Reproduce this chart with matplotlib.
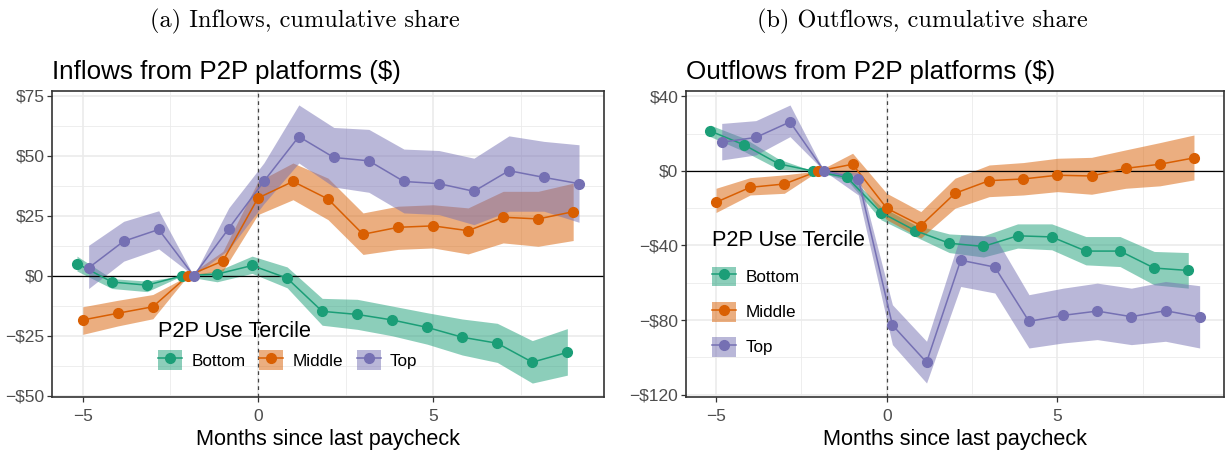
import matplotlib
matplotlib.use('Agg')
import matplotlib.pyplot as plt
from matplotlib.lines import Line2D
from matplotlib.patches import Patch
import numpy as np

plt.rcParams['font.family'] = ['Liberation Sans', 'DejaVu Sans']

months = [-5, -4, -3, -2, -1, 0, 1, 2, 3, 4, 5, 6, 7, 8, 9]
groups = ['Bottom', 'Middle', 'Top']
colores = ['#1B9E77', '#D95F02', '#7570B3']

# Inflows (panel a)
in_bottom = [5.1, -2.6, -3.9, 0, 0.7, 4.3, -1.0, -14.8, -16.1, -18.4, -21.5, -25.6, -28.1, -36.0, -31.9]
in_bottom_hi = [8.2, -1.2, -2.2, 0, 2.0, 8.2, 3.7, -9.4, -9.8, -12.6, -15.4, -18.0, -19.8, -27.0, -22.0]
in_bottom_lo = [2.0, -5.3, -6.6, 0, -2.5, 1.0, -5.0, -20.6, -22.3, -25.0, -28.5, -33.0, -36.1, -44.7, -41.4]
in_middle = [-18.4, -15.6, -12.9, 0, 6.2, 32.4, 39.3, 32.0, 17.3, 20.2, 20.8, 18.8, 24.4, 23.7, 26.7]
in_middle_hi = [-12.9, -10.2, -7.8, 0, 10.2, 39.3, 47.0, 40.7, 26.2, 29.0, 29.6, 28.3, 35.2, 35.2, 38.6]
in_middle_lo = [-24.4, -20.9, -17.9, 0, 2.0, 25.5, 31.7, 23.4, 8.9, 11.0, 11.6, 9.1, 13.7, 12.3, 14.7]
in_top = [3.3, 14.4, 19.3, 0, 19.7, 39.3, 58.0, 49.3, 47.9, 39.3, 38.4, 35.2, 43.8, 41.0, 38.4]
in_top_hi = [12.7, 22.7, 27.1, 0, 28.3, 47.0, 71.2, 61.8, 61.0, 52.8, 52.2, 49.0, 58.3, 56.0, 54.6]
in_top_lo = [-5.3, 6.1, 11.2, 0, 10.9, 30.0, 47.0, 37.0, 34.8, 26.2, 25.5, 21.3, 26.9, 26.9, 22.3]

# Outflows (panel b)
out_bottom = [21.4, 13.9, 3.8, 0, -3.4, -22.3, -32.0, -38.8, -40.5, -34.8, -35.4, -43.0, -43.0, -52.1, -53.4]
out_bottom_hi = [24.6, 17.5, 6.4, 0, -1.6, -19.1, -29.0, -33.8, -34.8, -28.4, -28.4, -35.2, -35.2, -43.2, -43.8]
out_bottom_lo = [18.4, 10.4, 0.9, 0, -4.8, -26.2, -35.2, -43.8, -46.2, -41.4, -42.3, -50.4, -51.3, -61.1, -62.9]
out_middle = [-16.8, -8.8, -7.0, 0, 3.6, -20.0, -29.3, -12.0, -5.2, -4.3, -2.3, -2.7, 1.4, 3.6, 7.0]
out_middle_hi = [-9.3, -3.6, -2.1, 0, 9.5, -12.0, -21.8, -3.9, 3.2, 4.5, 6.8, 7.3, 11.3, 15.2, 19.3]
out_middle_lo = [-22.3, -12.9, -12.0, 0, -2.1, -26.2, -36.0, -20.0, -13.8, -12.9, -11.1, -12.5, -9.3, -8.0, -4.8]
out_top = [15.4, 18.0, 26.3, 0, -4.1, -82.7, -102.7, -47.9, -51.6, -80.7, -77.5, -75.2, -78.2, -75.0, -78.4]
out_top_hi = [25.5, 27.0, 35.4, 0, -0.9, -71.8, -91.4, -34.3, -35.2, -66.4, -62.9, -60.2, -62.9, -59.3, -61.6]
out_top_lo = [5.9, 8.6, 18.4, 0, -12.9, -93.2, -113.8, -62.0, -65.5, -95.0, -92.3, -90.5, -93.2, -91.4, -95.0]

in_yticks = [75, 50, 25, 0, -25, -50]
in_ylabels = ['$75', '$50', '$25', '$0', '\u2212$25', '\u2212$50']
out_yticks = [40, 0, -40, -80, -120]
out_ylabels = ['$40', '$0', '\u2212$40', '\u2212$80', '\u2212$120']
xticks = [-5, 0, 5]
xlabels = ['\u22125', '0', '5']


def panel(ax, series, titulo, yticks, ylabels, ylim, minor_y):
    dodge = [-1/6, 0, 1/6]
    x = np.array(months, dtype=float)
    for (m, hi, lo), c, d in zip(series, colores, dodge):
        ax.fill_between(x + d, lo, hi, color=c, alpha=0.5, lw=0, zorder=2)
    for (m, hi, lo), c, d in zip(series, colores, dodge):
        ax.plot(x + d, m, color=c, lw=1.1, zorder=3)
        ax.plot(x + d, m, 'o', color=c, ms=7, zorder=4)
    ax.axhline(0, color='black', lw=0.9, zorder=2.5)
    ax.axvline(0, color='#444444', lw=0.9, ls=(0, (3, 3)), zorder=2.5)
    ax.set_xlim(-5.88, 9.88)
    ax.set_ylim(*ylim)
    ax.set_xticks(xticks)
    ax.set_xticklabels(xlabels)
    ax.set_yticks(yticks)
    ax.set_yticklabels(ylabels)
    ax.set_xticks([-2.5, 2.5, 7.5], minor=True)
    ax.set_yticks(minor_y, minor=True)
    ax.grid(True, which='major', color='#EBEBEB', lw=1.2, zorder=0)
    ax.grid(True, which='minor', color='#EBEBEB', lw=0.6, zorder=0)
    ax.set_axisbelow(True)
    ax.tick_params(which='major', length=3.5, width=0.9, color='#333333',
                   labelsize=12.5, labelcolor='#4D4D4D', pad=2)
    ax.tick_params(axis='x', which='major', pad=5)
    ax.tick_params(which='minor', length=0)
    for s in ax.spines.values():
        s.set_color('#333333')
        s.set_linewidth(1.2)
    ax.set_xlabel('Months since last paycheck', fontsize=15.6, labelpad=4)
    ax.set_title(titulo, loc='left', fontsize=18.7, pad=9, x=0.0)


fig = plt.figure(figsize=(12.25, 4.51), dpi=100)
ax1 = fig.add_axes([52/1225, 1 - 397/451, (604 - 52)/1225, (397 - 91)/451])
ax2 = fig.add_axes([686/1225, 1 - 397/451, (1224 - 686)/1225, (397 - 91)/451])

panel(ax1, [(in_bottom, in_bottom_hi, in_bottom_lo),
            (in_middle, in_middle_hi, in_middle_lo),
            (in_top, in_top_hi, in_top_lo)],
      'Inflows from P2P platforms ($)', in_yticks, in_ylabels, (-50.5, 77.0),
      [62.5, 37.5, 12.5, -12.5, -37.5])
panel(ax2, [(out_bottom, out_bottom_hi, out_bottom_lo),
            (out_middle, out_middle_hi, out_middle_lo),
            (out_top, out_top_hi, out_top_lo)],
      'Outflows from P2P platforms ($)', out_yticks, out_ylabels, (-121.3, 42.9),
      [20, -20, -60, -100])

handles = [(Patch(facecolor=c, alpha=0.5, lw=0),
            Line2D([], [], color=c, lw=1.1, marker='o', ms=7)) for c in colores]

leg1 = ax1.legend(handles, groups, title='P2P Use Tercile', loc='upper left',
                  bbox_to_anchor=(0.164, 0.30), ncol=3, frameon=False, fontsize=12.3,
                  title_fontsize=15.6, handlelength=1.4, handleheight=1.4,
                  columnspacing=0.8, handletextpad=0.55)
leg1._legend_box.align = 'left'
leg2 = ax2.legend(handles, groups, title='P2P Use Tercile', loc='upper left',
                  bbox_to_anchor=(0.02, 0.595), ncol=1, frameon=False, fontsize=12.3,
                  title_fontsize=15.6, handlelength=1.4, handleheight=1.4,
                  labelspacing=0.9, handletextpad=0.55)
leg2._legend_box.align = 'left'

fig.text(305/1225, 1 - 21/451, '(a) Inflows, cumulative share', family='cmr10',
         fontsize=17.5, ha='center', va='center')
fig.text(922/1225, 1 - 21/451, '(b) Outflows, cumulative share', family='cmr10',
         fontsize=17.5, ha='center', va='center')

fig.savefig('out.png', dpi=100)
